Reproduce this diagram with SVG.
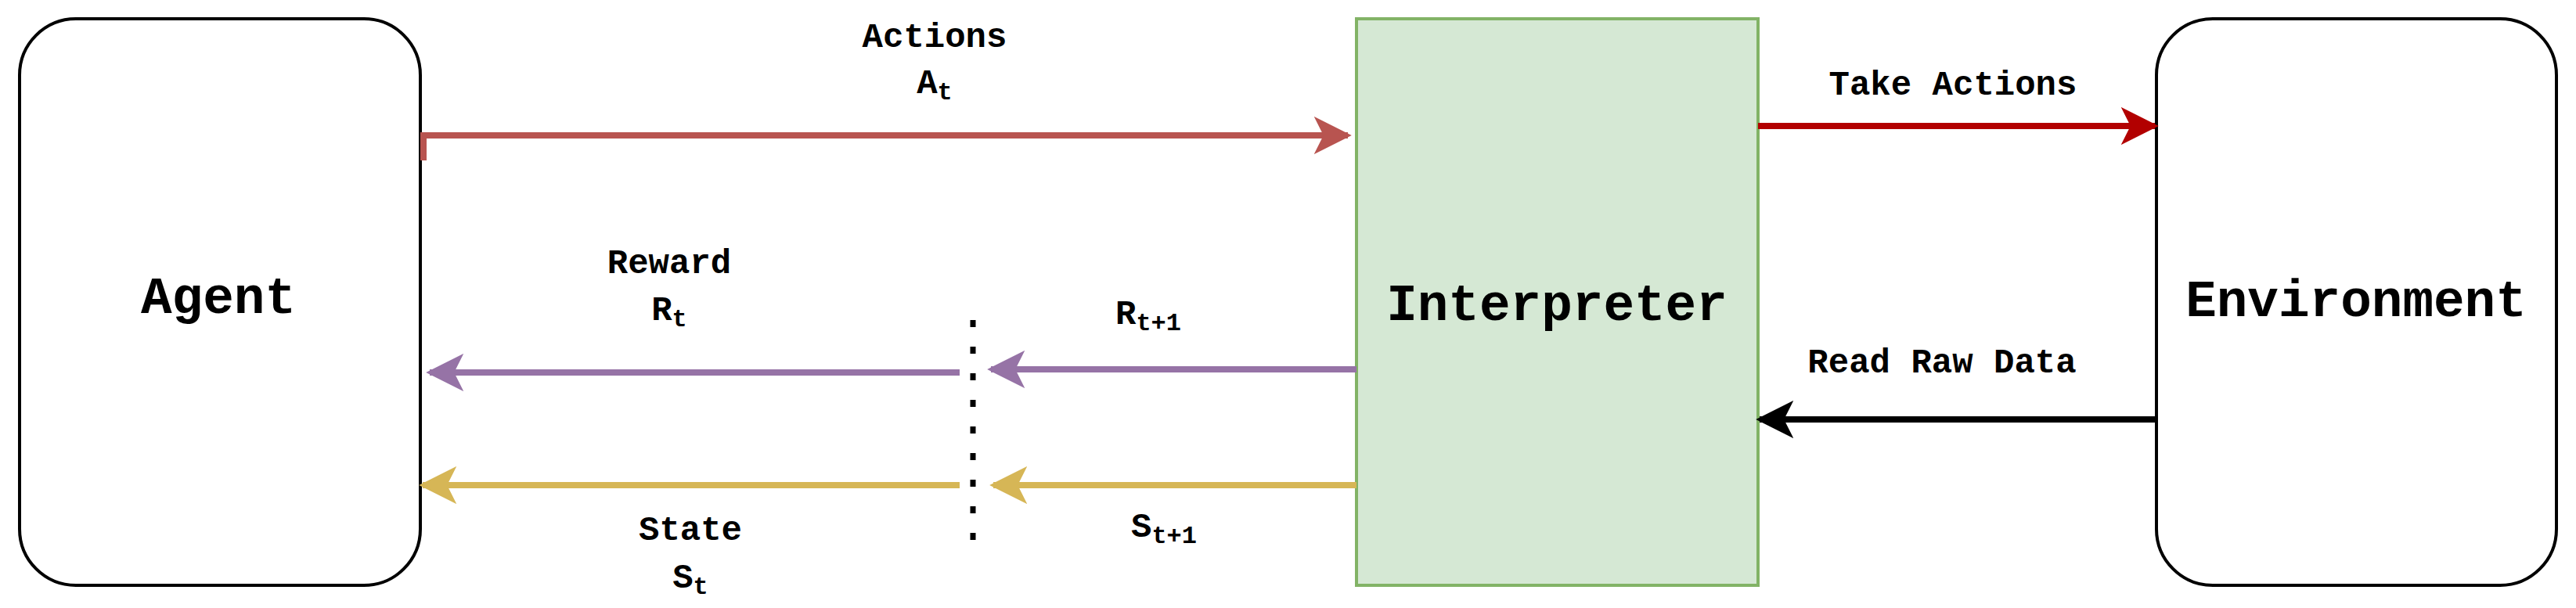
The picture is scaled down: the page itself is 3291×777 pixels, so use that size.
<svg xmlns="http://www.w3.org/2000/svg" width="3291" height="777" viewBox="0 0 3291 777">
<style>
text{font-family:"Liberation Mono","Courier New",monospace;font-weight:bold;fill:#000;text-anchor:middle}
.big{font-size:66px}
.lbl{font-size:44px}
.sub{font-size:32px}
.c{fill:none;stroke-width:8}
</style>
<defs>
<marker id="mr" viewBox="0 0 20 20" refX="18" refY="10" markerWidth="6" markerHeight="8" orient="auto" markerUnits="strokeWidth"><path d="M0,0 L20,10 L0,20 L5,10 Z" fill="#b85450"/></marker>
<marker id="mr2" viewBox="0 0 20 20" refX="18" refY="10" markerWidth="6" markerHeight="8" orient="auto" markerUnits="strokeWidth"><path d="M0,0 L20,10 L0,20 L5,10 Z" fill="#b20000"/></marker>
<marker id="mk" viewBox="0 0 20 20" refX="18" refY="10" markerWidth="6" markerHeight="8" orient="auto" markerUnits="strokeWidth"><path d="M0,0 L20,10 L0,20 L5,10 Z" fill="#000"/></marker>
<marker id="mp" viewBox="0 0 20 20" refX="18" refY="10" markerWidth="6" markerHeight="8" orient="auto" markerUnits="strokeWidth"><path d="M0,0 L20,10 L0,20 L5,10 Z" fill="#9673a6"/></marker>
<marker id="my" viewBox="0 0 20 20" refX="18" refY="10" markerWidth="6" markerHeight="8" orient="auto" markerUnits="strokeWidth"><path d="M0,0 L20,10 L0,20 L5,10 Z" fill="#d6b656"/></marker>
</defs>
<rect width="3291" height="777" fill="#fff"/>
<g id="agent"><rect x="25" y="24" width="512" height="724" rx="72" fill="#fff" stroke="#000" stroke-width="4"/><text class="big" x="279" y="400">Agent</text></g>
<g id="interpreter"><rect x="1733" y="24" width="513" height="724" fill="#d5e8d4" stroke="#82b366" stroke-width="4"/><text class="big" x="1989" y="409">Interpreter</text></g>
<g id="environment"><rect x="2755" y="24" width="511" height="724" rx="72" fill="#fff" stroke="#000" stroke-width="4"/><text class="big" x="3010" y="404">Environment</text></g>
<g id="connectors">
<path class="c" d="M541,205 L541,173 L1722,173" stroke="#b85450" marker-end="url(#mr)"/>
<path class="c" d="M2246,161 L2753,161" stroke="#b20000" marker-end="url(#mr2)"/>
<path class="c" d="M2755,536 L2248,536" stroke="#000" marker-end="url(#mk)"/>
<path class="c" d="M1733,472 L1266,472" stroke="#9673a6" marker-end="url(#mp)"/>
<path class="c" d="M1226,476 L549,476" stroke="#9673a6" marker-end="url(#mp)"/>
<path class="c" d="M1733,620 L1269,620" stroke="#d6b656" marker-end="url(#my)"/>
<path class="c" d="M1226,620 L540,620" stroke="#d6b656" marker-end="url(#my)"/>
<line x1="1243" y1="409" x2="1243" y2="690" stroke="#000" stroke-width="7" stroke-dasharray="9 25"/>
</g>
<g id="labels">
<text class="lbl" x="1194" y="60">Actions</text>
<text class="lbl" x="1194" y="119">A<tspan class="sub" dy="8">t</tspan></text>
<text class="lbl" x="855" y="349">Reward</text>
<text class="lbl" x="855" y="409">R<tspan class="sub" dy="8">t</tspan></text>
<text class="lbl" x="1467" y="414">R<tspan class="sub" dy="8">t+1</tspan></text>
<text class="lbl" x="882" y="690">State</text>
<text class="lbl" x="882" y="751">S<tspan class="sub" dy="8">t</tspan></text>
<text class="lbl" x="1487" y="686">S<tspan class="sub" dy="8">t+1</tspan></text>
<text class="lbl" x="2495" y="121">Take Actions</text>
<text class="lbl" x="2481" y="476">Read Raw Data</text>
</g>
</svg>
